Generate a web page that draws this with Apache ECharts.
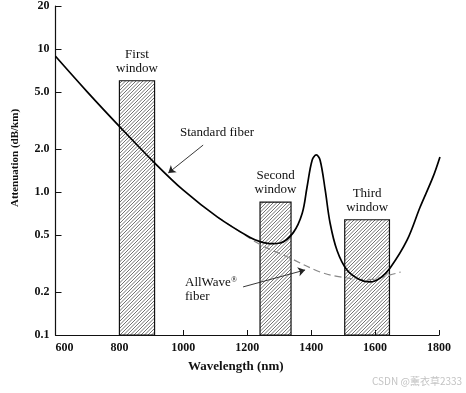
<!DOCTYPE html>
<html><head><meta charset="utf-8">
<script src="https://cdn.jsdelivr.net/npm/echarts@6/dist/echarts.min.js"></script>
<style>html,body{margin:0;padding:0;background:#fff}#c{width:466px;height:393px}</style>
</head><body><div id="c"></div>
<script>
// ---- data ----
const wavelengthStd = [600, 700, 805, 910, 1000, 1106, 1209, 1240, 1275, 1303, 1344, 1372, 1387, 1403, 1416, 1428, 1444, 1459, 1481, 1512, 1553, 1584, 1616, 1647, 1700, 1741, 1781, 1803];
const attenStd      = [8.9, 5.0, 2.8, 1.6, 1.03, 0.67, 0.48, 0.45, 0.435, 0.44, 0.52, 0.71, 1.08, 1.67, 1.82, 1.67, 1.03, 0.61, 0.39, 0.285, 0.243, 0.235, 0.25, 0.294, 0.46, 0.785, 1.27, 1.76];
const wavelengthAllWave = [1106, 1170, 1240, 1334, 1428, 1491, 1575, 1647, 1680];
const attenAllWave      = [0.67, 0.54, 0.43, 0.345, 0.276, 0.255, 0.243, 0.263, 0.276];
const windowNames = ['First\nwindow', 'Second\nwindow', 'Third\nwindow'];
const windowStart = [800, 1240, 1505];
const windowEnd   = [910, 1337, 1645];
const windowTop   = [6.0, 0.85, 0.64];
const yTickValues = [0.1, 0.2, 0.5, 1, 2, 5, 10, 20];
const yTickLabels = ['0.1', '0.2', '0.5', '1.0', '2.0', '5.0', '10', '20'];
const xMin = 600, xMax = 1800, xStep = 200;
const yMin = 0.1, yMax = 20;
const arrowStd = [[1062, 2.13], [953, 1.36]];
const arrowAllWave = [[1187, 0.217], [1381, 0.285]];

// ---- hatch pattern ----
const pc = document.createElement('canvas'); pc.width = 7; pc.height = 7;
const g = pc.getContext('2d'); g.strokeStyle = '#444'; g.lineWidth = 0.75;
g.beginPath();
[0, 3.5, 7, 10.5, 14].forEach(s => { g.moveTo(s - 8, 8); g.lineTo(s + 1, -1); });
g.stroke();

const serif = '"Liberation Serif", "DejaVu Serif", serif';
const chart = echarts.init(document.getElementById('c'), null, {renderer: 'canvas'});

const zip = (a, b) => a.map((v, i) => [v, b[i]]);

chart.setOption({
  animation: false,
  backgroundColor: '#fff',
  grid: {left: 55.5, right: 27, top: 5, bottom: 58, containLabel: false},
  xAxis: {
    type: 'value', min: xMin, max: xMax, interval: xStep,
    axisLine: {show: true, lineStyle: {color: '#111', width: 1.2}},
    axisTick: {show: true, inside: true, length: 5, lineStyle: {color: '#111', width: 1}},
    axisLabel: {color: '#111', fontFamily: serif, fontWeight: 'bold', fontSize: 12, margin: 7, alignMinLabel: 'left', formatter: v => String(v)},
    splitLine: {show: false}
  },
  yAxis: {
    type: 'log', logBase: 10, min: yMin, max: yMax,
    axisLine: {show: true, lineStyle: {color: '#111', width: 1.2}},
    axisTick: {show: true, inside: true, length: 6, customValues: yTickValues, lineStyle: {color: '#111', width: 1}},
    axisLabel: {
      color: '#111', fontFamily: serif, fontWeight: 'bold', fontSize: 12, margin: 6,
      customValues: yTickValues,
      formatter: v => { const i = yTickValues.findIndex(t => Math.abs(t - v) < 1e-9); return i >= 0 ? yTickLabels[i] : ''; }
    },
    splitLine: {show: false}, minorTick: {show: false}
  },
  graphic: [
    {type: 'text', left: 188, top: 360, style: {text: 'Wavelength (nm)', font: 'bold 13px ' + serif, fill: '#111'}},
    {type: 'text', x: 15, y: 158, rotation: Math.PI / 2,
      style: {text: 'Attenuation (dB/km)', font: 'bold 11px ' + serif, fill: '#111', align: 'center', verticalAlign: 'middle'}},
    {type: 'text', left: 180, top: 126, style: {text: 'Standard fiber', font: '13px ' + serif, fill: '#111'}},
    {type: 'text', left: 185, top: 276, style: {
      text: 'AllWave{s|®}\nfiber', font: '13px ' + serif, fill: '#111', lineHeight: 14,
      rich: {s: {fontSize: 8, verticalAlign: 'top', fontFamily: serif, padding: [0, 0, 6, 0]}}}},
    {type: 'text', left: 372, top: 376, style: {text: 'CSDN @薰衣草2333', font: '10px "Noto Sans CJK SC", sans-serif', fill: '#c4c4c4'}}
  ],
  series: [
    {
      name: 'Standard fiber', type: 'line', data: zip(wavelengthStd, attenStd),
      smooth: 0.35, symbol: 'none', z: 3,
      lineStyle: {color: '#000', width: 1.7},
      markArea: {
        silent: true,
        itemStyle: {color: {image: pc, repeat: 'repeat'}, borderColor: '#111', borderWidth: 1.2},
        label: {show: true, position: 'top', distance: 5, color: '#111', fontFamily: serif, fontSize: 13, lineHeight: 14, align: 'center'},
        data: windowNames.map((n, i) => [{name: n, coord: [windowStart[i], yMin]}, {coord: [windowEnd[i], windowTop[i]]}])
      },
      markLine: {
        silent: true, symbol: ['none', 'arrow'], symbolSize: 7,
        label: {show: false},
        lineStyle: {color: '#222', width: 0.9, type: 'solid'},
        data: [
          [{coord: arrowStd[0]}, {coord: arrowStd[1]}],
          [{coord: arrowAllWave[0]}, {coord: arrowAllWave[1]}]
        ]
      }
    },
    {
      name: 'AllWave fiber', type: 'line', data: zip(wavelengthAllWave, attenAllWave),
      smooth: 0.35, symbol: 'none', z: 2,
      lineStyle: {color: '#888', width: 1.2, type: [7, 4]}
    }
  ]
});
</script></body></html>
